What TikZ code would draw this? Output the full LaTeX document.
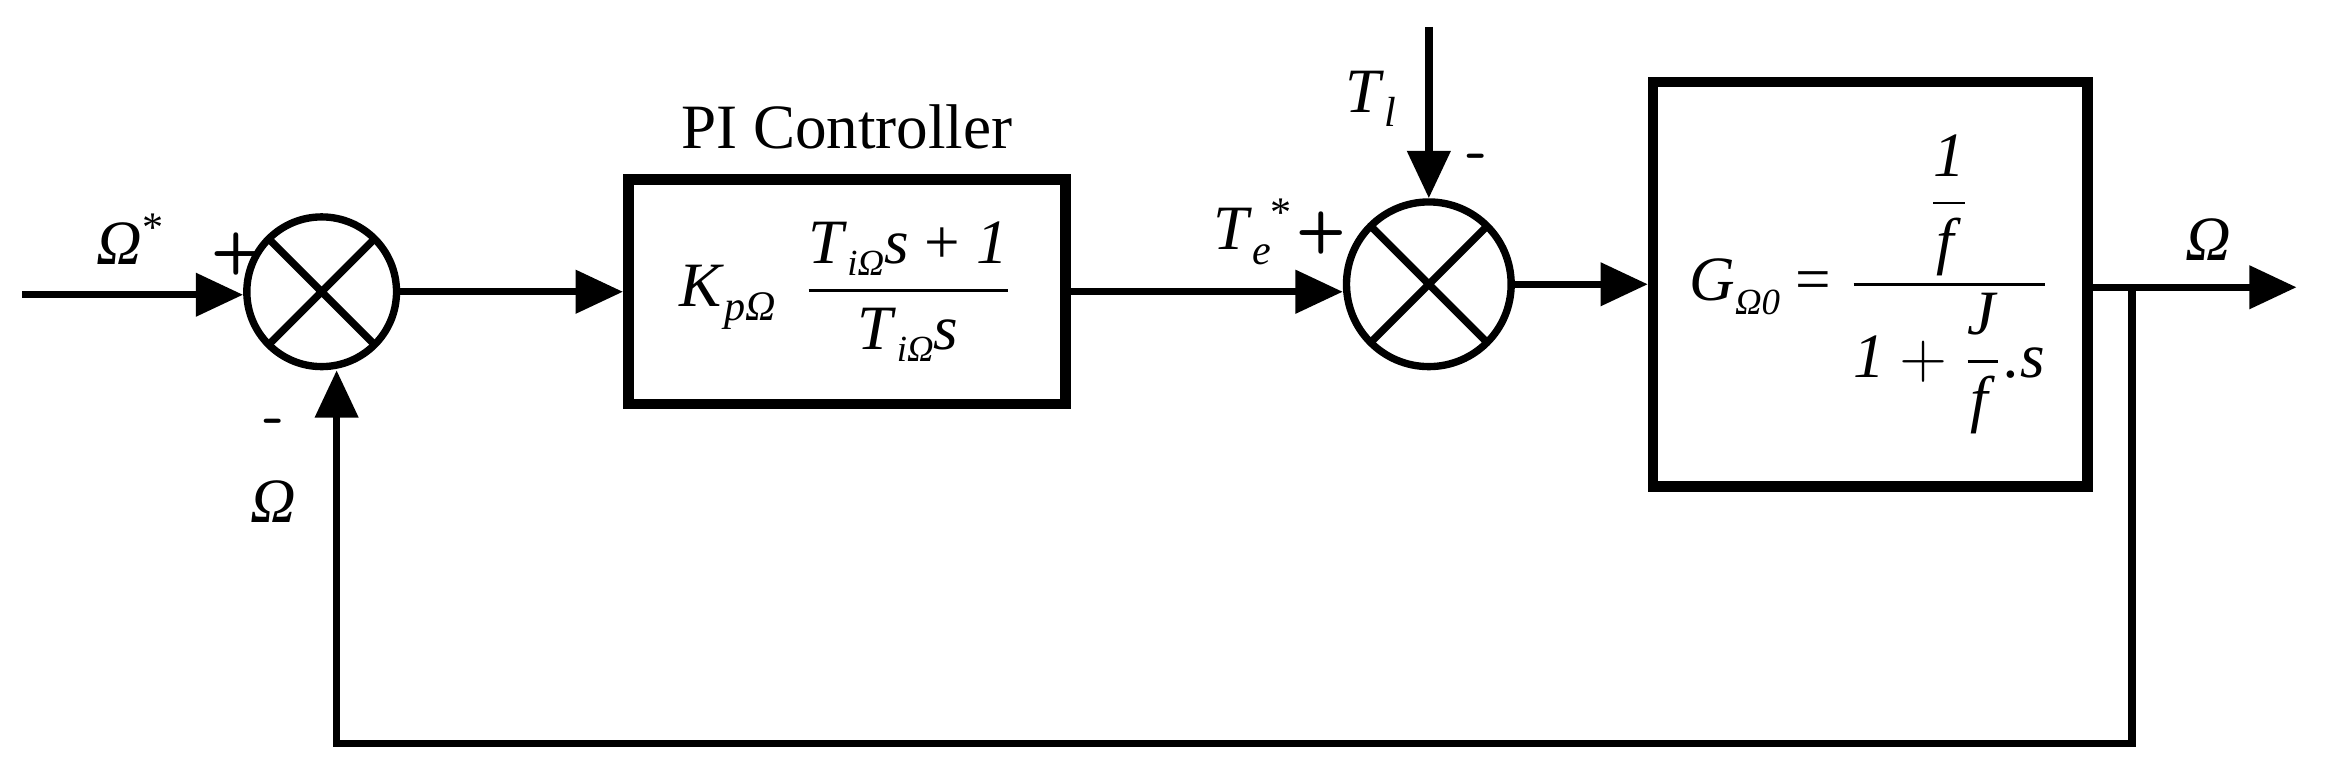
\documentclass[tikz,border=0pt]{standalone}
\usepackage{amsmath}
\usepackage{fontspec}
\setmainfont{Liberation Serif}
\usetikzlibrary{arrows.meta, positioning}

\begin{document}
\begin{tikzpicture}[
        x=0.01cm, y=-0.01cm,
        line width=1.4pt,
        >={Triangle[length=9pt, width=8pt]},
        % sommateurs
        sum/.style={circle, draw, minimum size=1cm, inner sep=0pt,
            path picture={
                \draw[line width=1.4pt] (path picture bounding box.south west) -- (path picture bounding box.north east)
                    (path picture bounding box.north west) -- (path picture bounding box.south east);}},
        % blocs
        block/.style={rectangle, draw, line width=2pt, inner sep=0pt},
        lbl/.style={font=\fontsize{12}{13}\selectfont},
        sign/.style={font=\sffamily\bfseries\fontsize{11}{12}\selectfont}
    ]
    \useasboundingbox (0,0) rectangle (1568,521);

    % --- SOMMATEURS ---
    \node [sum] (sumA) at (215,195) {};
    \node [sum, minimum size=1.1cm] (sumB) at (955,190) {};

    % --- BLOCS ---
    \node [block, minimum width=2.92cm, minimum height=1.5cm] (pi) at (566,195)
        {\fontsize{12}{14}\selectfont\textit{K}\raisebox{-0.5ex}{\fontsize{8}{8}\selectfont\textit{pΩ}}\,
         $\dfrac{\text{\textit{T}\raisebox{-0.4ex}{\fontsize{7}{7}\selectfont\textit{iΩ}}\textit{s} + \textit{1}}}{\text{\textit{T}\raisebox{-0.4ex}{\fontsize{7}{7}\selectfont\textit{iΩ}}\textit{s}}}$};
    \node [block, minimum width=2.9cm, minimum height=2.7cm] (plant) at (1250,190)
        {\fontsize{12}{14}\selectfont\textit{G}\raisebox{-0.5ex}{\fontsize{7}{7}\selectfont\textit{Ω0}} =
         $\dfrac{\dfrac{\text{\textit{1}}}{\text{\textit{f}}}}{\text{\textit{1}} + \dfrac{\text{\textit{J}}}{\text{\textit{f}}}\text{\textit{.s}}}$};

    % --- POINTS ---
    \coordinate (in) at (15,197);
    \coordinate (load) at (955,18);
    \coordinate (out) at (1535,192);
    \coordinate (tap) at (1425,192);
    \coordinate (fbR) at (1425,497);
    \coordinate (fbL) at (225,497);

    % --- LIAISONS ---
    \draw [->] (in) -- (sumA.west |- in);
    \draw [->] (sumA) -- (pi.west |- sumA);
    \draw [->] (pi.east |- sumA) -- (sumB.west |- sumA);
    \draw [->] (load) -- (sumB);
    \draw [->] (sumB) -- (plant.west |- sumB);
    \draw [->] (plant.east |- out) -- (out);
    \draw [->] (tap) -- (fbR) -- (fbL) -- (sumA.south -| fbL);

    % --- ÉTIQUETTES ---
    \node [lbl] (tPI) at (566,85) {PI Controller};
    \node [lbl] (tRef) at (88,160) {\textit{Ω}\textsuperscript{*}};
    \node [sign] (pA) at (158,170) {+};
    \node [sign] (mA) at (183,285) {-};
    \node [lbl] (tFb) at (183,335) {\textit{Ω}};
    \node [lbl] (tTe) at (838,155) {\textit{T}\raisebox{-0.5ex}{\fontsize{8}{8}\selectfont\textit{e}}\textsuperscript{*}};
    \node [sign] (pB) at (883,156) {+};
    \node [lbl] (tTl) at (916,66) {\textit{T}\raisebox{-0.5ex}{\fontsize{8}{8}\selectfont\textit{l}}};
    \node [sign] (mB) at (987,108) {-};
    \node [lbl] (tOut) at (1476,160) {\textit{Ω}};
\end{tikzpicture}
\end{document}
